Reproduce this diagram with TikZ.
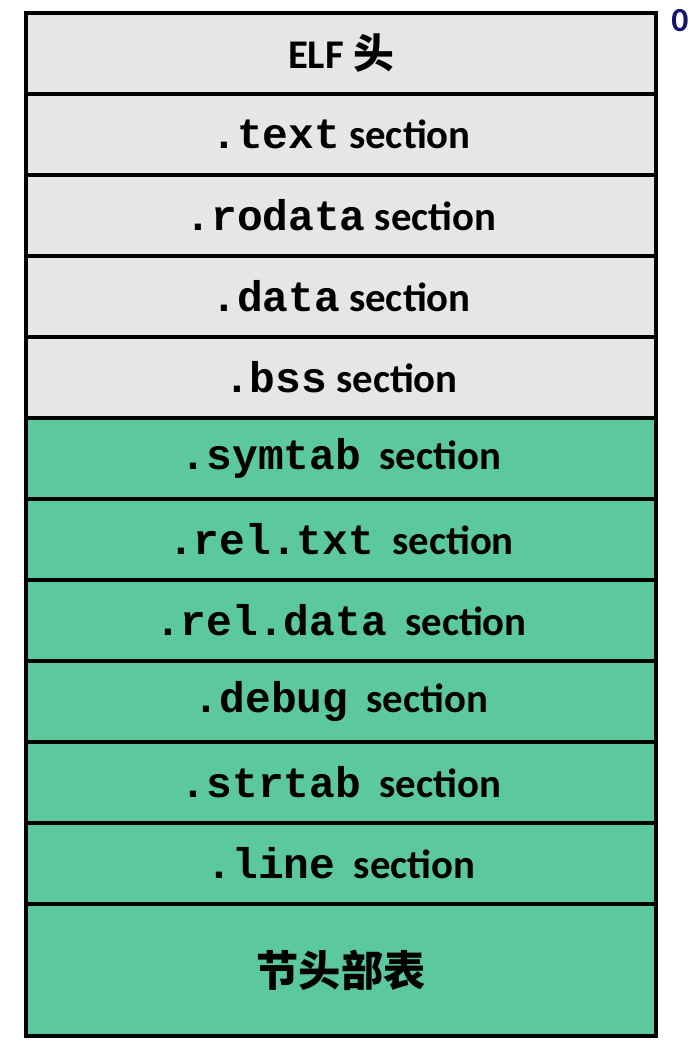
\documentclass[tikz,border=0pt]{standalone}
\usepackage{fontspec}
\setmainfont{Carlito}
\newfontfamily\codefont{Liberation Mono}
\newfontfamily\cjkfont{Noto Sans CJK SC}
\usetikzlibrary{positioning}
\definecolor{headgray}{RGB}{230,230,230}
\definecolor{tabgreen}{RGB}{91,200,158}
\definecolor{offsetblue}{RGB}{20,20,110}
\newcommand\code[1]{{\codefont\fontsize{30.5}{32}\selectfont #1}}

\begin{document}
\begin{tikzpicture}[x=0.25mm, y=-0.25mm, node distance=0pt,
    secbox/.style={shape=rectangle, draw, line width=1.2mm, outer sep=0pt, inner sep=0pt,
        minimum width=157.5mm, minimum height=20.25mm, font=\fontsize{29}{32}\selectfont\bfseries},
    graybox/.style={secbox, fill=headgray},
    greenbox/.style={secbox, fill=tabgreen}]
    \useasboundingbox (0,0) rectangle (696,1050);
    % loaded into memory
    \node[graybox, anchor=north west] (elf) at (26,13) {ELF {\cjkfont 头}};
    \node[graybox, below=of elf] (text) {\code{.text} section};
    \node[graybox, below=of text] (rodata) {\code{.rodata} section};
    \node[graybox, below=of rodata] (data) {\code{.data} section};
    \node[graybox, below=of data] (bss) {\code{.bss} section};
    % not loaded
    \node[greenbox, below=of bss] (symtab) {\code{.symtab}\ \ section};
    \node[greenbox, below=of symtab] (reltxt) {\code{.rel.txt}\ \ section};
    \node[greenbox, below=of reltxt] (reldata) {\code{.rel.data}\ \ section};
    \node[greenbox, below=of reldata] (debug) {\code{.debug}\ \ section};
    \node[greenbox, below=of debug] (strtab) {\code{.strtab}\ \ section};
    \node[greenbox, below=of strtab] (line) {\code{.line}\ \ section};
    \node[greenbox, below=of line, minimum height=33mm] (shdr) {\cjkfont\fontsize{30}{32}\selectfont 节头部表};
    \node[text=offsetblue, font=\fontsize{24}{26}\selectfont\bfseries] (zero) at (680,21) {0};
\end{tikzpicture}
\end{document}
